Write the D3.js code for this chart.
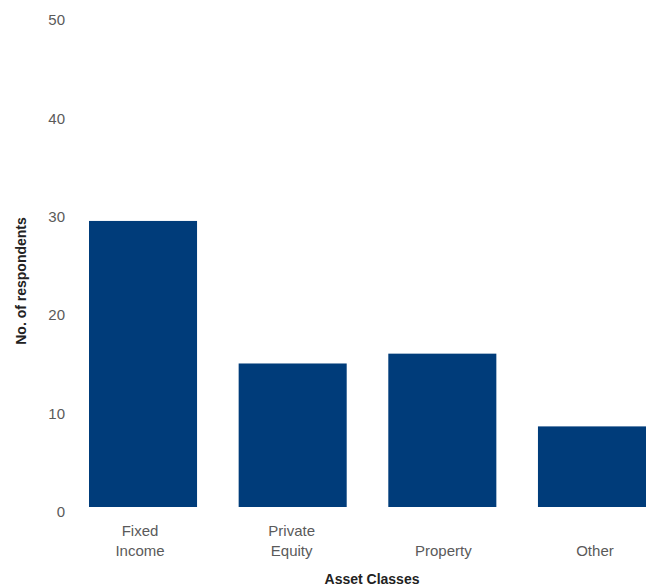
<!DOCTYPE html>
<html>
<head>
<meta charset="utf-8">
<script src="https://cdn.jsdelivr.net/npm/d3@7"></script>
<style>
  html, body { margin: 0; padding: 0; background: #fff; }
  svg { display: block; font-family: "Liberation Sans", Arial, Helvetica, sans-serif; }
</style>
</head>
<body>
<script>
const categories = ["Fixed Income", "Private Equity", "Property", "Other"];
const categoryLines = [["Fixed", "Income"], ["Private", "Equity"], ["Property"], ["Other"]];
const values = [29.1, 14.6, 15.6, 8.2];
const yTicks = [0, 10, 20, 30, 40, 50];
const yTitle = "No. of respondents";
const xTitle = "Asset Classes";

const W = 646, H = 586;
const svg = d3.select("body").append("svg").attr("width", W).attr("height", H);

const x = d3.scaleBand().domain(categories).range([89, 646]).paddingInner(0.278).paddingOuter(0);
const y = d3.scaleLinear().domain([0, 50]).range([507, 15.5]);

// bars
svg.append("g").selectAll("rect").data(values).join("rect")
  .attr("x", (d, i) => x(categories[i]))
  .attr("y", d => y(d))
  .attr("width", x.bandwidth())
  .attr("height", d => y(0) - y(d))
  .attr("fill", "#003c7a");

// y axis
const yAxis = svg.append("g").attr("transform", "translate(65,4.5)")
  .call(d3.axisLeft(y).tickValues(yTicks).tickSize(0).tickPadding(0).tickFormat(d3.format("d")));
yAxis.select(".domain").remove();
yAxis.selectAll("text").attr("font-size", 15).attr("fill", "#5a5a5a").attr("font-family", "Liberation Sans, Arial, sans-serif");

// x labels
const xl = svg.append("g");
categories.forEach((c, i) => {
  const lines = categoryLines[i];
  const cx = x(c) + x.bandwidth() / 2 + (i - 1.5) * 2;
  const t = xl.append("text").attr("text-anchor", "middle").attr("font-size", 15).attr("fill", "#5a5a5a");
  lines.forEach((ln, j) => {
    const baseY = 556 - (lines.length - 1 - j) * 20;
    t.append("tspan").attr("x", cx).attr("y", baseY).text(ln);
  });
});

// axis titles
svg.append("text")
  .attr("transform", "translate(26,281) rotate(-90)")
  .attr("text-anchor", "middle").attr("font-size", 14).attr("font-weight", "bold").attr("fill", "#222")
  .text(yTitle);

svg.append("text")
  .attr("x", 372).attr("y", 584)
  .attr("text-anchor", "middle").attr("font-size", 14).attr("font-weight", "bold").attr("fill", "#222")
  .text(xTitle);
</script>
</body>
</html>
